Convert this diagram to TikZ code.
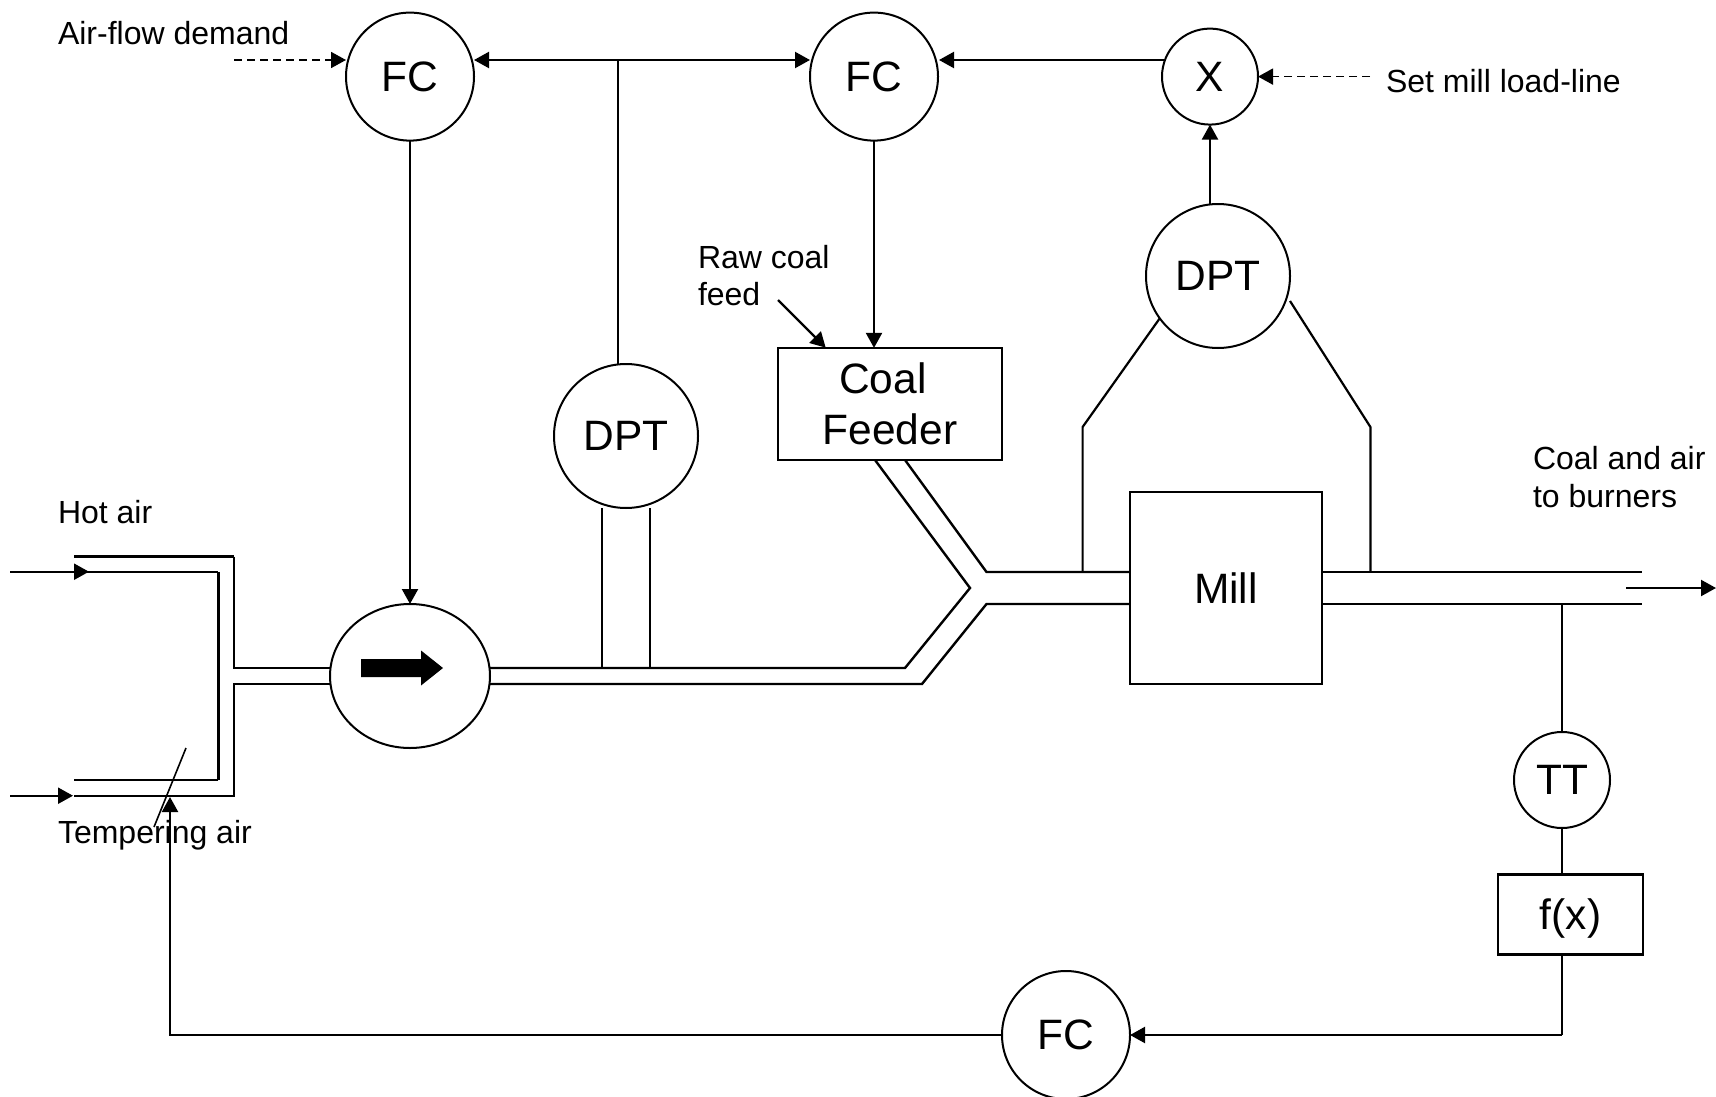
\documentclass[tikz,border=0pt]{standalone}
\usepackage{fontspec}
\setmainfont{Liberation Sans}
\usetikzlibrary{arrows.meta,shapes.geometric,calc}
\newcommand{\smalltxt}{\fontsize{32}{37}\selectfont}
\newcommand{\bigtxt}{\fontsize{42.5}{51}\selectfont}
\newcommand{\lowtxt}[1]{\raisebox{-1pt}{#1}}
\tikzset{
  inst/.style={circle,draw=black,line width=2pt,inner sep=0pt,outer sep=0pt,font=\bigtxt},
  boxnode/.style={rectangle,draw=black,line width=2.2pt,inner sep=0pt,outer sep=0pt,font=\bigtxt,align=center},
  label/.style={inner sep=0pt,outer sep=0pt,font=\smalltxt,anchor=west},
  pipe/.style={draw=black,line width=2.4pt,line join=miter},
  heavypipe/.style={draw=black,line width=3.2pt},
  sig/.style={draw=black,line width=2.2pt},
  sigarrow/.style={sig,-{Triangle[length=15pt,width=16pt]}},
  sigboth/.style={sig,{Triangle[length=15pt,width=16pt]}-{Triangle[length=15pt,width=16pt]}},
  dasharrow/.style={sigarrow,line width=1.8pt,dash pattern=on 8pt off 5pt},
}
\begin{document}
\begin{tikzpicture}[x=1pt,y=-1pt]
\useasboundingbox (0,0) rectangle (1716,1097);
% instruments
\node[inst,minimum size=128pt] (fca) at (410,76.6) {\lowtxt{FC}};
\node[inst,minimum size=128pt] (fcb) at (874,76.6) {\lowtxt{FC}};
\node[inst,minimum size=96pt] (xx) at (1210,76.6) {\lowtxt{X}};
\node[inst,minimum size=144pt] (dpta) at (1218,276) {\lowtxt{DPT}};
\node[inst,minimum size=144pt] (dptb) at (626,436) {\lowtxt{DPT}};
\node[inst,minimum size=96pt] (tt) at (1562,780) {\lowtxt{TT}};
\node[inst,minimum size=128pt] (fcc) at (1066,1035) {\lowtxt{FC}};
\node[boxnode,minimum width=145pt,minimum height=80pt,text depth=0pt] (fx) at (1570.5,914.5) {f(x)};
\node[boxnode,minimum width=224.3pt,minimum height=112.3pt] (feeder) at (890,404) {\lowtxt{Coal}\hspace*{14pt}\\\lowtxt{Feeder}};
\node[boxnode,minimum width=192pt,minimum height=192.3pt] (mill) at (1226,587.8) {Mill};
\node[ellipse,draw=black,line width=2pt,inner sep=0pt,outer sep=0pt,minimum width=160pt,minimum height=144pt] (fan) at (410,676) {};
% labels
\node[label] (lair) at (58,33) {Air-flow demand};
\node[label] (lset) at (1386,81) {Set mill load-line};
\node[label] (lraw) at (698,257) {Raw coal};
\node[label] (lfeed) at (698,294.5) {feed};
\node[label] (lhot) at (58,512.5) {Hot air};
\node[label] (ltemp) at (58,835) {Tempering air};
\node[label] (lcoal) at (1533,458.5) {Coal and air};
\node[label] (lburn) at (1533,496) {to burners};
% duct coordinates
\coordinate (ha1) at (74,556.7);
\coordinate (ha2) at (234,556.7);
\coordinate (ha3) at (234,668);
\coordinate (hb1) at (74,571.7);
\coordinate (hb2) at (218.3,571.7);
\coordinate (hb3) at (218.3,780);
\coordinate (hb4) at (74,780);
\coordinate (hc1) at (74,795.7);
\coordinate (hc2) at (234,795.7);
\coordinate (hc3) at (234,684);
\coordinate (ca1) at (905,668);
\coordinate (ca2) at (970,588);
\coordinate (ca3) at (875,460);
\coordinate (cb1) at (922,684);
\coordinate (cb2) at (986.5,604);
\coordinate (cc1) at (986.5,572);
\coordinate (cc2) at (905,460);
\coordinate (oa) at (1642,572);
\coordinate (ob) at (1642,604);
\coordinate (ina) at (10,571.7);
\coordinate (inb) at (10,795.7);
\coordinate (inatip) at (89,571.7);
\coordinate (inbtip) at (73,795.7);
\coordinate (outa) at (1626,588);
\coordinate (outb) at (1716,588);
\coordinate (dma) at (186,748);
\coordinate (dmb) at (154,827);
\coordinate (dmtip) at (170,797);
\coordinate (cornerb) at (170,1035);
\coordinate (cornerc) at (1562,1035);
\coordinate (jtop) at (618,60);
\coordinate (tapa) at (1082.6,427);
\coordinate (tapa0) at (1082.6,572);
\coordinate (tapb) at (1370.4,427);
\coordinate (tapb0) at (1370.4,572);
\coordinate (tapbend) at (1290,301);
\coordinate (dpl) at (602,508);
\coordinate (dpr) at (650,508);
\coordinate (airs) at (234,60);
\coordinate (sets) at (1370,76.6);
\coordinate (raws) at (778,300);
\coordinate (rawe) at (825.7,347.7);
\coordinate (fcatipl) at (346,60);
\coordinate (fcatipr) at (474,60);
\coordinate (fcbtipl) at (810,60);
\coordinate (fcbtipr) at (939,60);
\coordinate (xxleft) at (1165,60);
% fan direction arrow
\fill[black] (361,659) -- (421,659) -- (421,650.5) -- (443,668) -- (421,685.5) -- (421,677) -- (361,677) -- cycle;
% ducts
\draw[pipe] (ha2) -- (ha3) -- (ha3 -| fan.west);
\draw[heavypipe] (ha1) -- (ha2);
\draw[pipe] (hb1) -- (hb2);
\draw[heavypipe] (hb2) -- (hb3);
\draw[pipe] (hb3) -- (hb4);
\draw[pipe] (hc1) -- (hc2) -- (hc3) -- (hc3 -| fan.west);
\draw[pipe] (ca1 -| fan.east) -- (ca1) -- (ca2) -- (ca3);
\draw[pipe] (cb1 -| fan.east) -- (cb1) -- (cb2) -- (cb2 -| mill.west);
\draw[pipe] (cc2) -- (cc1) -- (cc1 -| mill.west);
\draw[pipe] (oa -| mill.east) -- (oa);
\draw[pipe] (ob -| mill.east) -- (ob);
% inflow, outflow and damper
\draw[sigarrow] (ina) -- (inatip);
\draw[sigarrow] (inb) -- (inbtip);
\draw[sigarrow] (outa) -- (outb);
\draw[sig,line width=1.6pt] (dma) -- (dmb);
% signals
\draw[sigboth] (fcatipr) -- (fcbtipl);
\draw[sig] (jtop) -- (dptb.north -| jtop);
\draw[dasharrow] (airs) -- (fcatipl);
\draw[sigarrow] (xxleft) -- (fcbtipr);
\draw[dasharrow] (sets) -- (xx.east);
\draw[sigarrow] (dpta.north -| xx) -- (xx.south);
\draw[sigarrow] (fca.south) -- (fan.north);
\draw[sigarrow] (fcb.south) -- (feeder.north -| fcb);
\draw[sigarrow] (raws) -- (rawe);
\draw[sig] (dpl) -- (dpl |- ca1);
\draw[sig] (dpr) -- (dpr |- ca1);
\draw[sig] (tapa0) -- (tapa) -- (dpta.216);
\draw[sig] (tapb0) -- (tapb) -- (tapbend);
\draw[sig] (ob -| tt) -- (tt.north);
\draw[sig] (tt.south) -- (tt.south |- fx.north);
\draw[sig] (fx.south -| tt) -- (cornerc);
\draw[sigarrow] (cornerc) -- (fcc.east);
\draw[sigarrow] (fcc.west) -- (cornerb) -- (dmtip);
\end{tikzpicture}
\end{document}
